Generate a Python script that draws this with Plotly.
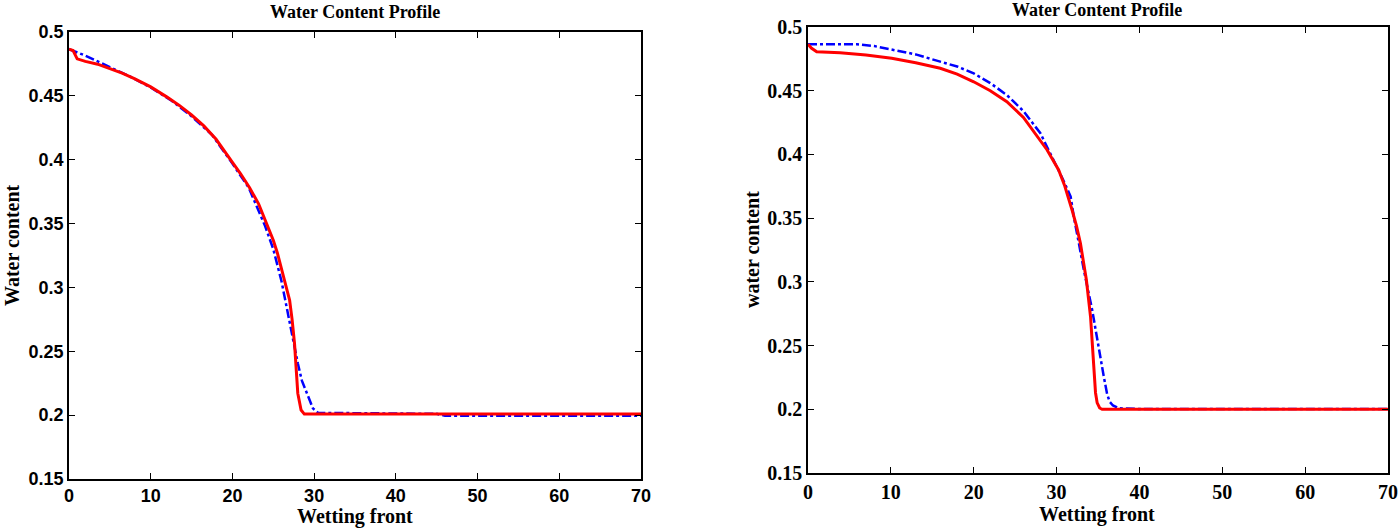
import plotly.graph_objects as go

# ---------------- data ----------------
# Left panel
left_red_x = [0, 0.5, 1.0, 2, 3.5, 5, 6.5, 8, 10, 12, 13.5, 15, 16.5, 18, 18.8, 20, 21, 22.1, 23.2, 24.15, 25, 25.5, 26.0, 26.5, 27.0, 27.3, 27.6, 28.0, 28.4, 28.8, 30, 40, 50, 60, 70]
left_red_y = [0.4865, 0.4855, 0.479, 0.477, 0.4748, 0.4715, 0.4678, 0.4635, 0.457, 0.449, 0.4425, 0.435, 0.4265, 0.416, 0.4085, 0.398, 0.389, 0.378, 0.3655, 0.351, 0.337, 0.327, 0.315, 0.304, 0.290, 0.275, 0.256, 0.217, 0.204, 0.2008, 0.2008, 0.2008, 0.2008, 0.2008, 0.2008]

left_blue_x = [0, 2, 5, 7.5, 10, 12.5, 15, 17.5, 20, 22, 24, 25, 26, 27, 27.5, 28, 28.5, 29.3, 29.85, 30.5, 35, 45, 46, 55, 70]
left_blue_y = [0.4865, 0.4815, 0.4725, 0.4650, 0.4565, 0.4465, 0.434, 0.4195, 0.397, 0.378, 0.348, 0.330, 0.305, 0.272, 0.256, 0.2406, 0.227, 0.214, 0.2053, 0.2018, 0.2014, 0.2010, 0.1995, 0.1995, 0.1995]

# Right panel
right_red_x = [0, 0.4, 1.05, 3.87, 7, 10.1, 13, 15.96, 18, 20.0, 22, 24.0, 26, 28.05, 28.86, 30.25, 31.0, 31.87, 32.4, 32.88, 33.3, 33.6, 34.1, 34.4, 34.7, 34.9, 35.2, 35.5, 40, 50, 60, 70]
right_red_y = [0.4865, 0.4835, 0.4806, 0.4798, 0.4780, 0.4754, 0.4720, 0.4676, 0.4630, 0.457, 0.4500, 0.4414, 0.4290, 0.4113, 0.4035, 0.3878, 0.3750, 0.3564, 0.3440, 0.3302, 0.3150, 0.3014, 0.2726, 0.2412, 0.2130, 0.2050, 0.2010, 0.2000, 0.2000, 0.2000, 0.2000, 0.2000]

right_blue_x = [0, 5.9, 8, 10.1, 13, 15.96, 18, 20.0, 22, 24.0, 26, 28.05, 29.66, 30.8, 31.7, 32.08, 32.7, 33.29, 34.3, 35.1, 35.7, 36.1, 36.4, 36.8, 37.5, 40, 50, 60, 70]
right_blue_y = [0.4864, 0.4864, 0.4850, 0.4825, 0.4785, 0.4728, 0.4690, 0.4636, 0.4560, 0.4466, 0.4340, 0.4166, 0.3956, 0.3800, 0.3668, 0.3511, 0.3300, 0.3093, 0.2779, 0.2465, 0.2256, 0.2120, 0.2060, 0.2030, 0.2008, 0.2002, 0.2002, 0.2002, 0.2002]

x_ticks = [0, 10, 20, 30, 40, 50, 60, 70]
x_tick_labels = ["0", "10", "20", "30", "40", "50", "60", "70"]
y_ticks = [0.15, 0.2, 0.25, 0.3, 0.35, 0.4, 0.45, 0.5]
y_tick_labels = ["0.15", "0.2", "0.25", "0.3", "0.35", "0.4", "0.45", "0.5"]

title_text = "Water Content Profile"
x_title = "Wetting front"
left_y_title = "Water content"
right_y_title = "water content"

# ---------------- figure ----------------
W, H = 1399, 528
RED = "rgb(255,0,0)"
BLUE = "rgb(0,0,255)"
SERIF = "Liberation Serif, Times New Roman, serif"
SANS = "Liberation Sans, Arial, sans-serif"

fig = go.Figure()

fig.add_trace(go.Scatter(x=left_blue_x, y=left_blue_y, mode="lines",
                         line=dict(color=BLUE, width=2.5, dash="dashdot"),
                         xaxis="x", yaxis="y", showlegend=False))
fig.add_trace(go.Scatter(x=left_red_x, y=left_red_y, mode="lines",
                         line=dict(color=RED, width=3),
                         xaxis="x", yaxis="y", showlegend=False))
fig.add_trace(go.Scatter(x=right_blue_x, y=right_blue_y, mode="lines",
                         line=dict(color=BLUE, width=2.5, dash="dashdot"),
                         xaxis="x2", yaxis="y2", showlegend=False))
fig.add_trace(go.Scatter(x=right_red_x, y=right_red_y, mode="lines",
                         line=dict(color=RED, width=3),
                         xaxis="x2", yaxis="y2", showlegend=False))


def px_x(p):
    return p / W


def px_y(p):
    return 1 - p / H


def axis_common(font_family, size):
    return dict(
        showline=True, linecolor="black", linewidth=1.5, mirror="ticks",
        ticks="inside", ticklen=6, tickwidth=1, tickcolor="black",
        showgrid=False, zeroline=False, automargin=False,
        tickfont=dict(family=font_family, size=size, color="black", weight="bold"),
    )


left_x_dom = [px_x(69), px_x(641)]
left_y_dom = [px_y(479), px_y(32)]
right_x_dom = [px_x(808), px_x(1388)]
right_y_dom = [px_y(473), px_y(27)]

fig.update_layout(
    template="none",
    width=W, height=H,
    margin=dict(l=0, r=0, t=0, b=0, pad=0, autoexpand=False),
    paper_bgcolor="white", plot_bgcolor="white",
    xaxis=dict(domain=left_x_dom, range=[0, 70], tickvals=x_ticks, ticktext=x_tick_labels,
               anchor="y", **axis_common(SANS, 18)),
    yaxis=dict(domain=left_y_dom, range=[0.15, 0.5], tickvals=y_ticks, ticktext=y_tick_labels,
               anchor="x", **axis_common(SANS, 18)),
    xaxis2=dict(domain=right_x_dom, range=[0, 70], tickvals=x_ticks, ticktext=x_tick_labels,
                anchor="y2", **axis_common(SERIF, 20)),
    yaxis2=dict(domain=right_y_dom, range=[0.15, 0.5], tickvals=y_ticks, ticktext=y_tick_labels,
                anchor="x2", **axis_common(SERIF, 20)),
)

ann_font = dict(family=SERIF, size=20, color="black", weight="bold")
title_font = dict(family=SERIF, size=18, color="black", weight="bold")

annotations = [
    dict(text=title_text, x=px_x(355), y=px_y(12), xref="paper", yref="paper",
         xanchor="center", yanchor="middle", showarrow=False, font=title_font),
    dict(text=title_text, x=px_x(1097), y=px_y(10), xref="paper", yref="paper",
         xanchor="center", yanchor="middle", showarrow=False, font=title_font),
    dict(text=x_title, x=px_x(355), y=px_y(516), xref="paper", yref="paper",
         xanchor="center", yanchor="middle", showarrow=False, font=ann_font),
    dict(text=x_title, x=px_x(1097), y=px_y(514), xref="paper", yref="paper",
         xanchor="center", yanchor="middle", showarrow=False, font=ann_font),
    dict(text=left_y_title, x=px_x(12), y=px_y(245), xref="paper", yref="paper",
         xanchor="center", yanchor="middle", showarrow=False, font=ann_font, textangle=-90),
    dict(text=right_y_title, x=px_x(752), y=px_y(250), xref="paper", yref="paper",
         xanchor="center", yanchor="middle", showarrow=False, font=ann_font, textangle=-90),
]
fig.update_layout(annotations=annotations)

fig.write_html(
    "out.html",
    config={"displayModeBar": False},
    post_script="document.body.style.margin='0';document.body.style.padding='0';document.body.style.overflow='hidden';",
)
